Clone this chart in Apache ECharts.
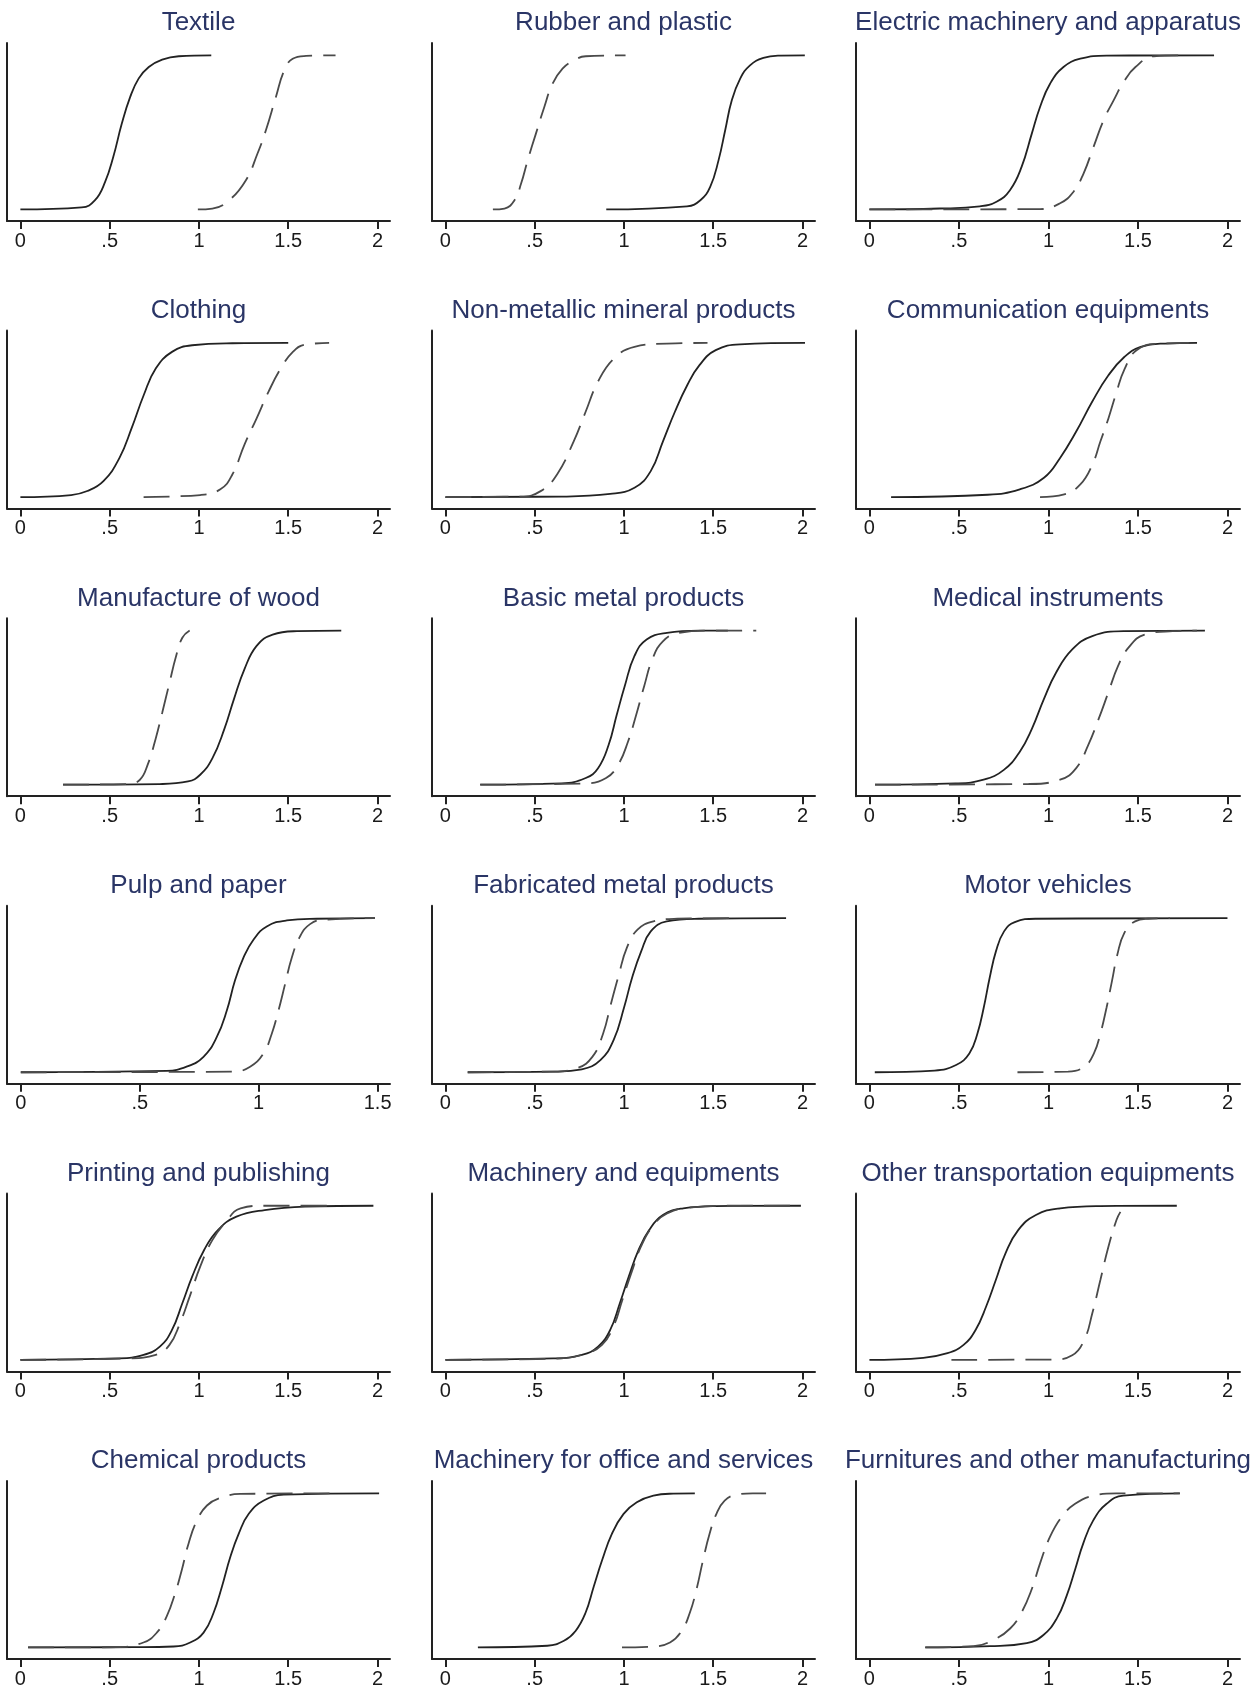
<!DOCTYPE html>
<html>
<head>
<meta charset="utf-8">
<script src="https://cdn.jsdelivr.net/npm/echarts@6/dist/echarts.min.js"></script>
<style>
html,body{margin:0;padding:0;background:#fff;}
#chart{width:1259px;height:1692px;}
</style>
</head>
<body>
<div id="chart"></div>
<script>
// ---------- DATA ----------
const titles = [
  "Textile", "Rubber and plastic", "Electric machinery and apparatus",
  "Clothing", "Non-metallic mineral products", "Communication equipments",
  "Manufacture of wood", "Basic metal products", "Medical instruments",
  "Pulp and paper", "Fabricated metal products", "Motor vehicles",
  "Printing and publishing", "Machinery and equipments", "Other transportation equipments",
  "Chemical products", "Machinery for office and services", "Furnitures and other manufacturing"
];
const ticksDefault = [0, 0.5, 1, 1.5, 2];
const ticksPulp = [0, 0.5, 1, 1.5];

const textileSolid = [[0,0],[0.343,0.013],[0.418,0.06],[0.475,0.18],[0.52,0.34],[0.568,0.557],[0.615,0.73],[0.662,0.849],[0.719,0.924],[0.794,0.972],[0.887,0.994],[1.069,1]];
const textileDashed = [[0.994,0],[1.075,0.006],[1.169,0.06],[1.263,0.19],[1.328,0.363],[1.375,0.514],[1.431,0.73],[1.478,0.903],[1.525,0.978],[1.6,0.996],[1.765,1]];

const rubberSolid = [[0.901,0],[1.353,0.02],[1.428,0.06],[1.483,0.147],[1.53,0.32],[1.567,0.514],[1.604,0.708],[1.651,0.849],[1.706,0.935],[1.781,0.983],[1.874,0.998],[2.013,1]];
const rubberDashed = [[0.266,0],[0.331,0.006],[0.387,0.06],[0.424,0.168],[0.461,0.32],[0.507,0.492],[0.554,0.665],[0.6,0.816],[0.656,0.914],[0.721,0.968],[0.786,0.994],[1.009,1]];

const electricSolid = [[0,0],[0.393,0.006],[0.617,0.02],[0.71,0.05],[0.785,0.125],[0.85,0.276],[0.907,0.492],[0.953,0.665],[1.009,0.816],[1.084,0.924],[1.178,0.978],[1.327,0.998],[1.925,1]];
const electricDashed = [[0,0],[0.953,0.002],[1.065,0.04],[1.14,0.115],[1.196,0.233],[1.252,0.406],[1.308,0.579],[1.364,0.708],[1.42,0.827],[1.486,0.924],[1.589,0.994],[1.738,1]];

const clothingSolid = [[0,0],[0.284,0.013],[0.375,0.039],[0.465,0.103],[0.555,0.254],[0.623,0.447],[0.691,0.662],[0.758,0.834],[0.849,0.942],[0.962,0.985],[1.187,0.998],[1.5,1]];
const clothingDashed = [[0.69,0],[1.007,0.013],[1.12,0.05],[1.187,0.146],[1.255,0.34],[1.323,0.511],[1.39,0.684],[1.458,0.834],[1.526,0.942],[1.594,0.989],[1.729,1]];

const nonmetalSolid = [[0,0],[0.65,0.003],[0.923,0.02],[1.059,0.06],[1.15,0.168],[1.218,0.36],[1.286,0.555],[1.355,0.727],[1.423,0.856],[1.514,0.953],[1.65,0.991],[2.014,1]];
const nonmetalDashed = [[0,0],[0.42,0.003],[0.536,0.04],[0.627,0.15],[0.718,0.36],[0.786,0.555],[0.855,0.75],[0.945,0.9],[1.059,0.975],[1.241,0.996],[1.468,1]];

const commSolid = [[0.121,0],[0.661,0.015],[0.84,0.05],[0.975,0.125],[1.065,0.254],[1.155,0.425],[1.245,0.62],[1.335,0.79],[1.425,0.91],[1.515,0.974],[1.65,0.996],[1.83,1]];
const commDashed = [[0.953,0],[1.088,0.017],[1.178,0.082],[1.245,0.21],[1.29,0.36],[1.335,0.51],[1.38,0.68],[1.425,0.83],[1.492,0.953],[1.604,0.994],[1.784,1]];

const woodSolid = [[0.239,0],[0.78,0.004],[0.939,0.021],[1.007,0.064],[1.075,0.17],[1.142,0.36],[1.196,0.555],[1.255,0.75],[1.323,0.9],[1.413,0.974],[1.549,0.996],[1.797,1]];
const woodDashed = [[0.239,0],[0.6,0.004],[0.668,0.03],[0.713,0.13],[0.758,0.3],[0.795,0.47],[0.835,0.66],[0.871,0.83],[0.907,0.953],[0.948,1]];

const basicSolid = [[0.195,0],[0.65,0.008],[0.786,0.043],[0.855,0.107],[0.914,0.257],[0.959,0.45],[1.005,0.642],[1.059,0.835],[1.127,0.942],[1.241,0.985],[1.423,1],[1.582,1]];
const basicDashed = [[0.195,0],[0.786,0.008],[0.9,0.043],[0.968,0.13],[1.023,0.28],[1.068,0.45],[1.114,0.642],[1.159,0.813],[1.218,0.93],[1.309,0.985],[1.468,1],[1.741,1]];

const medicalSolid = [[0.031,0],[0.481,0.008],[0.638,0.032],[0.751,0.096],[0.84,0.214],[0.908,0.364],[0.975,0.557],[1.043,0.728],[1.133,0.878],[1.245,0.964],[1.425,0.996],[1.874,1]];
const medicalDashed = [[0.031,0],[0.885,0.004],[1.065,0.032],[1.155,0.107],[1.222,0.257],[1.281,0.428],[1.335,0.6],[1.389,0.771],[1.447,0.889],[1.537,0.974],[1.694,0.996],[1.829,1]];

const pulpSolid = [[0,0],[0.613,0.009],[0.697,0.036],[0.768,0.1],[0.824,0.229],[0.866,0.4],[0.9,0.593],[0.936,0.743],[0.978,0.86],[1.034,0.946],[1.118,0.985],[1.244,0.996],[1.489,1]];
const pulpDashed = [[0,0],[0.894,0.004],[0.964,0.036],[1.02,0.122],[1.055,0.25],[1.083,0.4],[1.111,0.572],[1.139,0.743],[1.174,0.882],[1.216,0.961],[1.272,0.989],[1.489,1]];

const fabSolid = [[0.125,0],[0.615,0.004],[0.764,0.019],[0.868,0.079],[0.942,0.208],[1.001,0.422],[1.046,0.615],[1.097,0.786],[1.15,0.914],[1.239,0.979],[1.418,0.996],[1.908,1]];
const fabDashed = [[0.125,0],[0.585,0.004],[0.734,0.026],[0.823,0.1],[0.883,0.25],[0.927,0.443],[0.972,0.636],[1.016,0.807],[1.076,0.925],[1.165,0.979],[1.299,0.996],[1.626,1]];

const motorSolid = [[0.03,0],[0.364,0.011],[0.484,0.047],[0.558,0.122],[0.603,0.25],[0.639,0.422],[0.672,0.615],[0.707,0.786],[0.752,0.914],[0.812,0.974],[0.931,0.996],[2,1]];
const motorDashed = [[0.827,0],[1.11,0.004],[1.2,0.036],[1.254,0.122],[1.29,0.25],[1.325,0.422],[1.355,0.593],[1.385,0.764],[1.424,0.904],[1.484,0.979],[1.558,0.996],[1.678,1]];

const printSolid = [[0,0],[0.555,0.009],[0.69,0.032],[0.781,0.086],[0.849,0.194],[0.907,0.367],[0.962,0.54],[1.029,0.713],[1.106,0.842],[1.21,0.929],[1.368,0.972],[1.594,0.994],[1.977,1]];
const printDashed = [[0,0],[0.6,0.009],[0.758,0.032],[0.835,0.097],[0.894,0.238],[0.948,0.41],[1.007,0.605],[1.075,0.777],[1.151,0.896],[1.233,0.983],[1.368,1],[1.774,1]];

const machSolid = [[0,0],[0.605,0.009],[0.764,0.032],[0.855,0.086],[0.923,0.194],[0.977,0.367],[1.027,0.54],[1.082,0.713],[1.141,0.842],[1.218,0.94],[1.332,0.983],[1.514,0.998],[1.991,1]];
const machDashed = [[0,0],[0.65,0.009],[0.786,0.04],[0.877,0.097],[0.941,0.216],[0.991,0.389],[1.041,0.562],[1.095,0.734],[1.159,0.864],[1.241,0.95],[1.377,0.989],[1.65,1],[1.991,1]];

const otherSolid = [[0,0],[0.301,0.013],[0.436,0.043],[0.526,0.097],[0.593,0.194],[0.652,0.346],[0.706,0.518],[0.76,0.691],[0.831,0.842],[0.93,0.94],[1.065,0.983],[1.29,0.998],[1.717,1]];
const otherDashed = [[0.458,0],[1.02,0.002],[1.133,0.03],[1.2,0.13],[1.245,0.302],[1.29,0.518],[1.335,0.734],[1.38,0.907],[1.402,0.96]];

const chemSolid = [[0.043,0],[0.633,0.002],[0.858,0.006],[0.951,0.032],[1.026,0.096],[1.082,0.225],[1.129,0.396],[1.176,0.589],[1.223,0.739],[1.279,0.867],[1.363,0.953],[1.476,0.991],[2.009,1]];
const chemDashed = [[0.043,0],[0.539,0.002],[0.689,0.032],[0.764,0.096],[0.82,0.203],[0.867,0.353],[0.904,0.503],[0.942,0.675],[0.989,0.824],[1.045,0.921],[1.12,0.97],[1.232,0.996],[1.757,1]];

const officeSolid = [[0.182,0],[0.571,0.011],[0.664,0.043],[0.729,0.107],[0.785,0.225],[0.831,0.396],[0.878,0.567],[0.933,0.739],[0.998,0.867],[1.072,0.942],[1.165,0.985],[1.276,0.998],[1.397,1]];
const officeDashed = [[0.989,0],[1.165,0.006],[1.258,0.032],[1.323,0.107],[1.369,0.225],[1.406,0.375],[1.443,0.567],[1.48,0.739],[1.518,0.867],[1.564,0.953],[1.629,0.991],[1.722,1],[1.796,1]];

const furnSolid = [[0.312,0],[0.675,0.008],[0.879,0.028],[0.972,0.081],[1.046,0.187],[1.102,0.336],[1.149,0.506],[1.195,0.677],[1.251,0.826],[1.325,0.932],[1.418,0.985],[1.734,1]];
const furnDashed = [[0.312,0],[0.582,0.008],[0.693,0.049],[0.786,0.123],[0.851,0.23],[0.907,0.379],[0.954,0.549],[1.009,0.719],[1.074,0.847],[1.149,0.932],[1.251,0.985],[1.381,1],[1.734,1]];

const solidSeries = [textileSolid, rubberSolid, electricSolid, clothingSolid, nonmetalSolid, commSolid,
  woodSolid, basicSolid, medicalSolid, pulpSolid, fabSolid, motorSolid,
  printSolid, machSolid, otherSolid, chemSolid, officeSolid, furnSolid];
const dashedSeries = [textileDashed, rubberDashed, electricDashed, clothingDashed, nonmetalDashed, commDashed,
  woodDashed, basicDashed, medicalDashed, pulpDashed, fabDashed, motorDashed,
  printDashed, machDashed, otherDashed, chemDashed, officeDashed, furnDashed];

// ---------- LAYOUT ----------
const colLeft = [7, 432, 856];
const colWidth = [383, 383, 384];
const rowTop0 = 43, rowStep = 287.6, gridH = 178;
const titleColor = '#2a3566';
const inkColor = '#222222';

const chart = echarts.init(document.getElementById('chart'), null, {renderer: 'canvas'});
const grids = [], xAxes = [], yAxes = [], series = [], titleOpts = [];

function fmt(v) {
  if (v === 0) return '0';
  let s = String(v);
  if (s.startsWith('0.')) s = s.slice(1);
  return s;
}

for (let i = 0; i < 18; i++) {
  const r = Math.floor(i / 3), c = i % 3;
  const top = rowTop0 + rowStep * r;
  const isPulp = (i === 9);
  const ticks = isPulp ? ticksPulp : ticksDefault;
  grids.push({left: colLeft[c], top: top, width: colWidth[c], height: gridH, containLabel: false});
  xAxes.push({
    type: 'value', gridIndex: i,
    min: isPulp ? -0.058 : -0.075, max: isPulp ? 1.552 : 2.07,
    axisLine: {show: true, onZero: false, lineStyle: {color: inkColor, width: 2}},
    axisTick: {show: true, length: 8, customValues: ticks, lineStyle: {color: inkColor, width: 2}},
    axisLabel: {show: true, customValues: ticks, formatter: fmt, margin: 10,
      fontSize: 20, fontFamily: 'Liberation Sans, Arial, sans-serif', color: '#1a1a1a'},
    splitLine: {show: false}
  });
  yAxes.push({
    type: 'value', gridIndex: i, min: -0.075, max: 1.08,
    axisLine: {show: true, onZero: false, lineStyle: {color: inkColor, width: 2}},
    axisTick: {show: false}, axisLabel: {show: false}, splitLine: {show: false}
  });
  titleOpts.push({
    text: titles[i],
    left: colLeft[c] + colWidth[c] / 2,
    top: 21.7 + rowStep * r - 11.5,
    textAlign: 'center',
    padding: 0,
    textStyle: {fontSize: 26, fontWeight: 'normal', fontFamily: 'Liberation Sans, Arial, sans-serif', color: titleColor}
  });
  series.push({
    type: 'line', xAxisIndex: i, yAxisIndex: i, data: solidSeries[i],
    showSymbol: false, smooth: 0.45,
    lineStyle: {color: '#222222', width: 1.8, type: 'solid'}, silent: true
  });
  series.push({
    type: 'line', xAxisIndex: i, yAxisIndex: i, data: dashedSeries[i],
    showSymbol: false, smooth: 0.45,
    lineStyle: {color: '#4a4a4a', width: 1.8, type: [26, 11]}, silent: true
  });
}

chart.setOption({
  animation: false,
  backgroundColor: '#ffffff',
  title: titleOpts,
  grid: grids,
  xAxis: xAxes,
  yAxis: yAxes,
  series: series
});
</script>
</body>
</html>
